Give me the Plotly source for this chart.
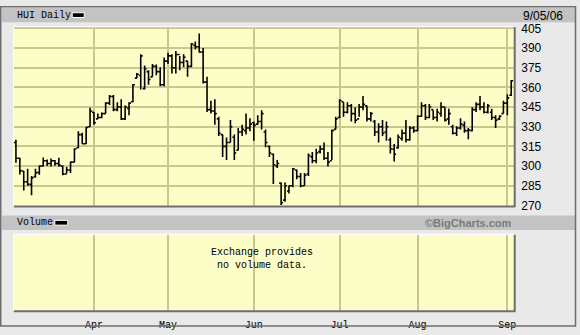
import plotly.graph_objects as go
import pandas as pd

# ---- data ----
holidays = ["2006-04-14", "2006-05-29", "2006-07-04", "2006-09-04"]
dates = [d.strftime("%Y-%m-%d") for d in pd.bdate_range("2006-03-06", "2006-09-05")
         if d.strftime("%Y-%m-%d") not in holidays]

opens = [318, 306, 296, 288, 286, 292, 295, 300, 304, 302, 304, 302, 300, 294, 297, 303,
         314, 324, 317, 330, 341, 336, 337, 340, 348, 353, 343, 345, 336, 344, 349, 367,
         369, 359, 372, 368, 376, 372, 362, 380, 384, 375, 385, 379, 380, 376, 392, 391,
         387, 364, 343, 342, 336, 324, 315, 318, 322, 312, 326, 327, 329, 333, 332, 334,
         326, 315, 309, 300, 287, 274, 281, 285, 297, 292, 285, 294, 307, 304, 311, 313,
         306, 304, 328, 337, 349, 341, 346, 340, 336, 345, 346, 336, 334, 326, 330, 326,
         320, 313, 314, 321, 325, 320, 329, 327, 338, 346, 337, 343, 337, 340, 345, 336,
         330, 325, 329, 331, 327, 327, 343, 347, 345, 341, 341, 337, 336, 340, 348, 354]
highs = [320, 306.3, 296.5, 298, 292.4, 298, 300.5, 306.5, 305, 305.8, 304.6, 306.3, 300.5, 299.2, 303.4, 313.6,
         326.6, 325.4, 329.8, 344.4, 341.2, 340, 340.8, 348.6, 354.2, 354.2, 348.6, 351, 346.1, 348.6, 362.5, 371,
         385.2, 376.7, 373, 377.9, 377.4, 375.4, 382.8, 386.4, 385.2, 387.7, 384, 385.2, 380.3, 393.8, 395, 401,
         390, 368, 349.8, 351, 337.6, 324, 321.7, 335.1, 324, 329, 331.5, 340, 336.4, 333.9, 338.8, 342.5,
         327.8, 315.6, 309.5, 304.6, 287.5, 287.5, 285, 298.5, 297.3, 294.8, 294.8, 309.5, 310.7, 313.2, 315.6, 318,
         310.7, 327.8, 337.6, 351, 348.6, 348.6, 347.3, 344.9, 347.3, 353.5, 346.1, 341.2, 335.1, 332.7, 335.1, 333.9,
         321.7, 316.8, 324, 327.8, 335.1, 330.3, 330.3, 338.8, 348.6, 347.3, 347.3, 342.5, 343.7, 348.6, 344.9, 343.7,
         331.5, 330.3, 336.4, 333.9, 329, 344.9, 348.6, 353.5, 348.6, 347.3, 343.7, 338.8, 338.8, 349.8, 354.7, 365.7]
lows = [302.6, 293.6, 281.4, 285, 277.7, 291, 293.4, 299.7, 300, 299.7, 300.2, 299.7, 292.9, 294.3, 294.8, 302.9,
        313.6, 316.8, 316.8, 329.8, 331.5, 335.9, 336.4, 340, 346.6, 341.7, 341.7, 335.1, 335.1, 338.8, 348.6, 366.9,
        358.3, 358.3, 362, 368, 369.3, 360.8, 360.8, 377.9, 370.6, 370.6, 373, 375.4, 368, 375.4, 388.9, 386.4,
        363, 341.2, 340, 331.5, 322.9, 307, 304.6, 318, 304.6, 312, 322.9, 324, 326.6, 319.2, 331.5, 327.8,
        314.4, 307, 286.3, 298.5, 270.4, 272.8, 279, 283.8, 290, 283.8, 285, 292.4, 302.2, 302.2, 309.5, 304.6,
        299.7, 304.6, 327.8, 336.4, 337.6, 340, 333.9, 332.7, 337.6, 342.5, 333.9, 333.9, 322.9, 318, 322.9, 319.2,
        309.5, 303.4, 313.2, 319.2, 318, 319.2, 325.4, 326.6, 337.6, 335.1, 336.4, 335.1, 333.9, 337.6, 333.9, 331.5,
        324.1, 322.9, 327.8, 325.4, 320.5, 326.6, 341.2, 342.5, 340, 340, 335.1, 329, 335.1, 340, 338.8, 353.5]
closes = [306, 296.5, 288, 286, 291, 295, 300, 304, 302, 304, 302, 300.5, 294, 297, 303, 313,
          324, 317, 329.5, 342, 333, 337, 340, 348, 353, 343, 345, 336, 345, 348, 362, 370,
          384, 374, 366, 376, 372, 362, 380, 384, 375, 385, 379, 383, 376, 393, 391, 387,
          364, 343, 342, 340, 325, 315, 318, 330, 310, 326, 328, 329, 332, 331, 334, 340,
          318, 310, 301, 302, 272, 285, 285, 298, 292, 285, 293, 308, 304, 310, 313, 306,
          303, 327, 336, 350, 341, 346, 340, 335, 345, 347, 336, 340, 326, 330, 325, 330,
          313, 309, 322, 325, 320, 329, 327, 338, 346, 337, 345, 337, 341, 345, 335, 340,
          325, 329, 332, 327, 327.5, 343, 347, 345, 341, 346, 337, 335, 338, 348, 352, 365]

price_ticks = [270, 285, 300, 315, 330, 345, 360, 375, 390, 405]
month_names = ["Jan", "Feb", "Mar", "Apr", "May", "Jun", "Jul", "Aug", "Sep", "Oct", "Nov", "Dec"]

# month tick positions: first trading day of each month after the first
idx = list(range(len(dates)))
month_tickvals, month_ticktext = [], []
for i in range(1, len(dates)):
    if dates[i][5:7] != dates[i - 1][5:7]:
        month_tickvals.append(i)
        month_ticktext.append(month_names[int(dates[i][5:7]) - 1])

W, H = 580, 335
def px(x):
    return x / W
def py(y):
    return 1 - y / H

BG = "#e9e9e9"
BAND = "#c3c3c3"
PLOT = "#fdfdc8"
GRID = "#c8c88c"
MONO = "Liberation Mono"
SANS = "Liberation Sans"

fig = go.Figure()
fig.add_trace(go.Ohlc(
    x=idx, open=opens, high=highs, low=lows, close=closes,
    text=dates, hoverinfo="text+y",
    increasing=dict(line=dict(color="black", width=1.6)),
    decreasing=dict(line=dict(color="black", width=1.6)),
    tickwidth=0.5, showlegend=False, xaxis="x", yaxis="y"))
# invisible trace to set up the volume panel
fig.add_trace(go.Scatter(x=[idx[0]], y=[-10], mode="markers", showlegend=False,
                         hoverinfo="skip", marker=dict(opacity=0), xaxis="x2", yaxis="y2"))

xr = [-0.51, len(dates) - 1 + 0.77]
fig.update_layout(
    width=W, height=H, margin=dict(l=0, r=0, t=0, b=0),
    paper_bgcolor=BG, plot_bgcolor=PLOT,
    xaxis=dict(domain=[px(14), px(516)], range=xr, tickvals=month_tickvals, showticklabels=False,
               showgrid=True, gridcolor=GRID, gridwidth=1.5, zeroline=False, ticks="",
               rangeslider=dict(visible=False), anchor="y"),
    yaxis=dict(domain=[py(208), py(22)], range=[269.6, 405.9], tickvals=price_ticks, side="right",
               showgrid=True, gridcolor=GRID, gridwidth=1.5, zeroline=False, ticks="",
               ticklabelstandoff=6, tickfont=dict(family=SANS, size=12, color="black"), anchor="x"),
    xaxis2=dict(domain=[px(14), px(516)], range=xr, tickvals=month_tickvals, ticktext=month_ticktext,
                showgrid=True, gridcolor=GRID, gridwidth=1.5, zeroline=False, ticks="",
                ticklabelstandoff=6, tickfont=dict(family=MONO, size=10, color="black"), anchor="y2"),
    yaxis2=dict(domain=[py(317), py(238)], range=[0, 1], showgrid=False, showticklabels=False,
                zeroline=False, ticks="", anchor="x2"),
    hovermode="closest",
)

shapes = []
# title band and volume band
shapes.append(dict(type="rect", xref="paper", yref="paper", x0=px(2), x1=px(578), y0=py(17), y1=py(2),
                   fillcolor=BAND, line=dict(width=0), layer="above"))
shapes.append(dict(type="rect", xref="paper", yref="paper", x0=px(2), x1=px(578), y0=py(233), y1=py(218),
                   fillcolor=BAND, line=dict(width=0), layer="above"))
# panel frames: light top/left, dark bottom/right
for top, bot in [(22, 208), (238, 317)]:
    shapes.append(dict(type="line", xref="paper", yref="paper", x0=px(14), x1=px(516), y0=py(top - 0.5), y1=py(top - 0.5),
                       line=dict(color="white", width=1)))
    shapes.append(dict(type="line", xref="paper", yref="paper", x0=px(13.5), x1=px(13.5), y0=py(top), y1=py(bot),
                       line=dict(color="white", width=1)))
    shapes.append(dict(type="line", xref="paper", yref="paper", x0=px(14), x1=px(517), y0=py(bot + 0.5), y1=py(bot + 0.5),
                       line=dict(color="#6e6e6e", width=2)))
    shapes.append(dict(type="line", xref="paper", yref="paper", x0=px(516.5), x1=px(516.5), y0=py(top), y1=py(bot + 1),
                       line=dict(color="#6e6e6e", width=2)))
# legend swatches
for x0, x1, y0, y1 in [(72.5, 84.5, 7, 12), (55, 68, 223, 228)]:
    shapes.append(dict(type="rect", xref="paper", yref="paper", x0=px(x0), x1=px(x1), y0=py(y1), y1=py(y0),
                       fillcolor="black", line=dict(color="white", width=1)))
# outer frame
shapes.append(dict(type="rect", xref="paper", yref="paper", x0=px(0.75), x1=px(577.5), y0=py(333), y1=py(0.75),
                   line=dict(color="#6e6e6e", width=1.5)))
fig.update_layout(shapes=shapes)

ann = [
    dict(text="HUI Daily", x=px(15), y=py(10), xanchor="left", yanchor="middle",
         font=dict(family=MONO, size=10, color="black")),
    dict(text="9/05/06", x=px(523), y=py(10), xanchor="left", yanchor="middle",
         font=dict(family=SANS, size=12, color="black")),
    dict(text="Volume", x=px(15), y=py(225.5), xanchor="left", yanchor="middle",
         font=dict(family=MONO, size=10, color="black")),
    dict(text="<b>©BigCharts.com</b>", x=px(516), y=py(225.5), xanchor="right", yanchor="middle",
         font=dict(family=SANS, size=11, color="#7a7a7a")),
    dict(text="Exchange provides<br>no volume data.", x=px(263), y=py(263), xanchor="center", yanchor="middle",
         font=dict(family=MONO, size=10, color="black"), align="center"),
]
for a in ann:
    a.update(xref="paper", yref="paper", showarrow=False)
fig.update_layout(annotations=ann)

fig.write_html("out.html")
